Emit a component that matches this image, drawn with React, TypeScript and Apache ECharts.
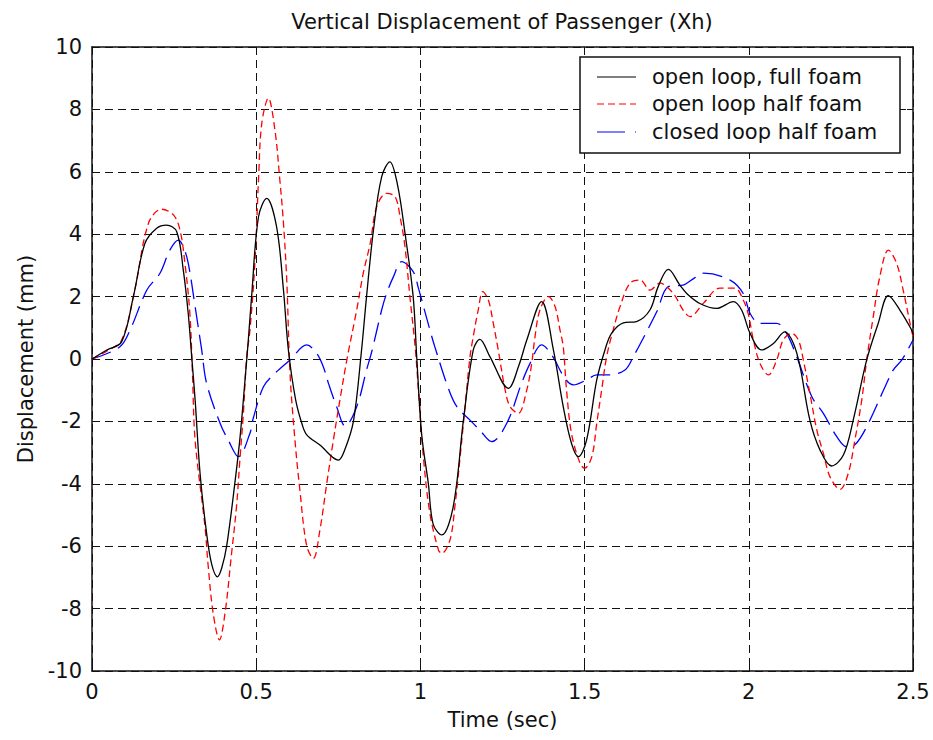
import React, { useEffect, useRef } from "react";
import * as echarts from "echarts";

const titleText = "Vertical Displacement of Passenger (Xh)";
const xName = "Time (sec)";
const yName = "Displacement (mm)";
const seriesNames = ["open loop, full foam", "open loop half foam", "closed loop half foam"];
const seriesColors = ["#000000", "#ff0000", "#0000ff"];

const fullFoamOpen: [number, number][] = [
  [0, 0], [0.045, 0.29], [0.09, 0.55], [0.126, 2.0], [0.161, 3.7], [0.197, 4.19], [0.227, 4.29],
  [0.258, 4.08], [0.278, 2.85], [0.293, 1.46], [0.304, 0.02], [0.314, -1.31], [0.329, -3.66],
  [0.349, -5.59], [0.365, -6.6], [0.382, -6.98], [0.395, -6.7], [0.41, -6.0], [0.435, -3.98], [0.451, -2.49],
  [0.466, -0.67], [0.476, 0.61], [0.486, 2.0], [0.507, 4.56], [0.532, 5.15], [0.562, 4.24],
  [0.583, 2.21], [0.598, 0.29], [0.62, -1.3], [0.64, -2.1], [0.654, -2.43], [0.694, -2.76],
  [0.75, -3.24], [0.77, -2.9], [0.796, -2.0], [0.82, 0.2], [0.836, 2.0], [0.857, 4.13],
  [0.882, 5.84], [0.907, 6.32], [0.93, 5.6], [0.953, 4.04], [0.978, 2.0], [0.989, 0.03],
  [1.004, -2.43], [1.024, -3.98], [1.039, -5.3], [1.065, -5.64], [1.1, -4.73], [1.131, -1.96],
  [1.161, 0.29], [1.181, 0.63], [1.212, 0.07], [1.268, -0.94], [1.3, -0.2], [1.324, 0.61],
  [1.369, 1.84], [1.405, 0.29], [1.435, -1.53], [1.46, -2.7], [1.481, -3.13], [1.506, -2.6],
  [1.537, -0.67], [1.562, 0.29], [1.582, 0.82], [1.618, 1.16], [1.658, 1.2], [1.699, 1.57],
  [1.724, 2.32], [1.755, 2.87], [1.79, 2.37], [1.811, 2.1], [1.851, 1.78], [1.902, 1.62],
  [1.953, 1.84], [1.978, 1.57], [2.004, 0.82], [2.039, 0.29], [2.075, 0.5], [2.11, 0.87],
  [2.136, 0.5], [2.156, -0.24], [2.186, -1.96], [2.217, -2.92], [2.252, -3.43], [2.288, -3.08],
  [2.318, -1.96], [2.359, -0.03], [2.394, 1.14], [2.425, 2.03], [2.46, 1.57], [2.496, 0.93],
  [2.5, 0.8],
];

const halfFoamOpen: [number, number][] = [
  [0, 0], [0.045, 0.25], [0.09, 0.6], [0.13, 2.2], [0.172, 4.35], [0.212, 4.8], [0.248, 4.62],
  [0.268, 4.13], [0.283, 3.07], [0.298, 1.46], [0.306, -0.5], [0.314, -2.6], [0.344, -5.37],
  [0.354, -6.66], [0.369, -8.15], [0.388, -9.0], [0.405, -8.15], [0.425, -6.23], [0.44, -4.73],
  [0.451, -3.13], [0.461, -1.74], [0.471, 0.07], [0.481, 0.93], [0.496, 3.07], [0.507, 5.74],
  [0.517, 7.55], [0.537, 8.36], [0.557, 7.34], [0.572, 5.74], [0.583, 4.35], [0.593, 2.53],
  [0.603, -0.46], [0.618, -2.6], [0.633, -4.2], [0.654, -6.0], [0.674, -6.39], [0.694, -5.48],
  [0.715, -3.98], [0.735, -2.6], [0.755, -1.31], [0.776, -0.03], [0.806, 1.57], [0.826, 2.75],
  [0.847, 3.7], [0.867, 4.88], [0.897, 5.31], [0.923, 5.2], [0.938, 4.56], [0.953, 3.6],
  [0.968, 2.0], [0.984, 0.39], [0.994, -0.99], [1.009, -3.13], [1.029, -4.95], [1.055, -6.12],
  [1.065, -6.23], [1.09, -5.8], [1.105, -4.73], [1.121, -3.13], [1.136, -1.53], [1.151, 0.07],
  [1.161, 0.72], [1.176, 1.57], [1.19, 2.16], [1.207, 1.89], [1.222, 1.14], [1.237, 0.29],
  [1.258, -0.99], [1.273, -1.53], [1.298, -1.74], [1.324, -0.99], [1.339, -0.14], [1.349, 0.72],
  [1.364, 1.57], [1.39, 2.0], [1.41, 1.68], [1.425, 0.93], [1.435, 0.39], [1.445, -0.99],
  [1.46, -2.38], [1.486, -3.34], [1.5, -3.5], [1.522, -3.13], [1.537, -2.06], [1.552, -0.99],
  [1.567, 0.07], [1.587, 0.93], [1.608, 1.68], [1.638, 2.43], [1.669, 2.53], [1.699, 2.21],
  [1.729, 2.43], [1.77, 2.1], [1.8, 1.57], [1.821, 1.36], [1.862, 1.79], [1.912, 2.27],
  [1.958, 2.27], [1.983, 1.89], [1.998, 1.46], [2.014, 0.61], [2.034, -0.14], [2.06, -0.51],
  [2.085, -0.03], [2.105, 0.61], [2.131, 0.82], [2.151, 0.61], [2.166, -0.03], [2.186, -1.1],
  [2.207, -2.27], [2.227, -3.02], [2.247, -3.77], [2.278, -4.18], [2.303, -3.66], [2.323, -2.6],
  [2.344, -1.31], [2.359, -0.03], [2.379, 1.36], [2.399, 2.64], [2.425, 3.49], [2.45, 3.07],
  [2.47, 2.21], [2.491, 1.14], [2.5, 0.72],
];

const halfFoamClosed: [number, number][] = [
  [0, 0], [0.085, 0.39], [0.116, 0.93], [0.167, 2.21], [0.207, 2.75], [0.237, 3.49], [0.263, 3.81],
  [0.278, 3.6], [0.293, 3.07], [0.314, 1.68], [0.334, 0.29], [0.349, -0.78], [0.39, -2.06],
  [0.415, -2.6], [0.446, -3.13], [0.481, -2.38], [0.491, -1.9], [0.522, -0.89], [0.552, -0.51],
  [0.603, -0.03], [0.654, 0.45], [0.684, 0.18], [0.704, -0.24], [0.72, -0.78], [0.745, -1.53],
  [0.771, -2.15], [0.806, -1.53], [0.836, -0.35], [0.852, 0.24], [0.882, 1.57], [0.897, 2.1],
  [0.918, 2.64], [0.943, 3.12], [0.978, 2.8], [0.994, 2.27], [1.029, 0.93], [1.044, 0.39],
  [1.085, -0.94], [1.111, -1.53], [1.151, -1.96], [1.181, -2.28], [1.217, -2.65], [1.263, -2.06],
  [1.308, -0.78], [1.334, -0.14], [1.369, 0.45], [1.4, 0.13], [1.44, -0.62], [1.466, -0.83],
  [1.506, -0.67], [1.537, -0.51], [1.572, -0.51], [1.623, -0.35], [1.648, 0.07], [1.694, 0.98],
  [1.72, 1.52], [1.755, 2.32], [1.8, 2.37], [1.811, 2.43], [1.835, 2.6], [1.862, 2.75],
  [1.943, 2.53], [1.983, 2.1], [2.004, 1.46], [2.034, 1.14], [2.085, 1.14], [2.115, 0.82],
  [2.146, 0.07], [2.192, -1.21], [2.227, -1.74], [2.268, -2.49], [2.298, -2.81], [2.323, -2.75],
  [2.359, -2.17], [2.415, -0.89], [2.44, -0.35], [2.466, -0.03], [2.5, 0.61],
];

const seriesData = [fullFoamOpen, halfFoamOpen, halfFoamClosed];
const seriesDash: (number[] | "solid")[] = ["solid", [7, 4], [20, 8]];

const FONT = "'DejaVu Sans', sans-serif";
const FS = 21;

export default function App() {
  const ref = useRef<HTMLDivElement>(null);
  useEffect(() => {
    document.body.style.margin = "0";
    if (!ref.current) return;
    const chart = echarts.init(ref.current, null, { renderer: "svg" });
    const grid = { left: 92, top: 47, width: 821, height: 624 };
    const gridLine = { show: true, lineStyle: { color: "#111", type: [8, 5] as any, width: 1 } };
    const axisLine = { show: true, onZero: false, lineStyle: { color: "#111", width: 1.5 } };
    const tick = { show: true, inside: true, length: 6, lineStyle: { color: "#111", width: 1 } };
    const labelStyle = { color: "#111", fontSize: FS, fontFamily: FONT };

    const legendX = 580, legendY = 57, legendW = 320, legendH = 96;
    const rowY = [77, 104, 132];
    const legendChildren: any[] = [
      { type: "rect", z: 100, shape: { x: legendX, y: legendY, width: legendW, height: legendH },
        style: { fill: "#fff", stroke: "#111", lineWidth: 1.5 } },
    ];
    seriesNames.forEach((name, i) => {
      legendChildren.push({
        type: "line", z: 101,
        shape: { x1: 597, y1: rowY[i], x2: 636, y2: rowY[i] },
        style: { stroke: seriesColors[i], lineWidth: 1.2,
          lineDash: i === 0 ? null : i === 1 ? [7, 4] : [28, 10] },
      });
      legendChildren.push({
        type: "text", x: 652, y: rowY[i], z: 101,
        style: { text: name, fill: "#111", fontSize: FS, fontFamily: FONT, textVerticalAlign: "middle" },
      });
    });

    chart.setOption({
      animation: false,
      backgroundColor: "#fff",
      title: {
        text: titleText, left: 497, top: 6, textAlign: "center",
        textStyle: { color: "#111", fontSize: FS, fontWeight: "normal", fontFamily: FONT },
      },
      grid,
      xAxis: [
        {
          type: "value", min: 0, max: 2.5, interval: 0.5,
          name: xName, nameLocation: "middle", nameGap: 38,
          nameTextStyle: labelStyle,
          axisLine, axisTick: tick, splitLine: gridLine,
          axisLabel: { ...labelStyle, margin: 10 },
        },
        {
          type: "value", min: 0, max: 2.5, interval: 0.5, position: "top",
          axisLine, axisTick: tick, splitLine: { show: false }, axisLabel: { show: false },
        },
      ],
      yAxis: [
        {
          type: "value", min: -10, max: 10, interval: 2,
          name: yName, nameLocation: "middle", nameGap: 56,
          nameTextStyle: labelStyle,
          axisLine, axisTick: tick, splitLine: gridLine,
          axisLabel: { ...labelStyle, margin: 10 },
        },
        {
          type: "value", min: -10, max: 10, interval: 2, position: "right",
          axisLine, axisTick: tick, splitLine: { show: false }, axisLabel: { show: false },
        },
      ],
      series: seriesData.map((d, i) => ({
        type: "line",
        name: seriesNames[i],
        data: d,
        xAxisIndex: 0,
        yAxisIndex: 0,
        smooth: 0.35,
        showSymbol: false,
        symbol: "none",
        lineStyle: { color: seriesColors[i], width: 1.3, type: seriesDash[i] as any },
        z: 5 - i,
      })),
      graphic: [{ type: "group", z: 100, children: legendChildren }],
    });
    return () => chart.dispose();
  }, []);
  return <div ref={ref} style={{ width: 933, height: 740 }} />;
}
